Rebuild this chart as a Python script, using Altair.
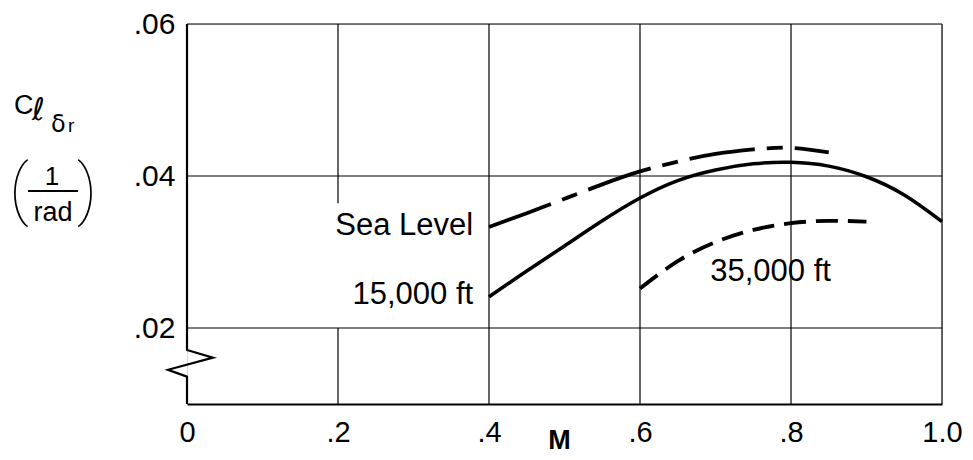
import altair as alt
import pandas as pd

# ---- data ----
sea_M = [0.40, 0.45, 0.50, 0.55, 0.60, 0.65, 0.70, 0.75, 0.80, 0.85]
sea_C = [0.0333, 0.0351, 0.0370, 0.0389, 0.0406, 0.0419, 0.0429, 0.0435, 0.0437, 0.0431]

ft15_M = [0.40, 0.45, 0.50, 0.55, 0.60, 0.65, 0.70, 0.75, 0.80, 0.85, 0.90, 0.95, 1.00]
ft15_C = [0.0241, 0.0275, 0.0308, 0.0341, 0.0371, 0.0394, 0.0408, 0.0416, 0.0418, 0.0413, 0.0399, 0.0375, 0.0340]

ft35_M = [0.60, 0.65, 0.70, 0.75, 0.80, 0.85, 0.90]
ft35_C = [0.0252, 0.0288, 0.0313, 0.0329, 0.0338, 0.0341, 0.0340]

x_ticks = [0.0, 0.2, 0.4, 0.6, 0.8, 1.0]
y_ticks = [0.02, 0.04, 0.06]

# grid / frame segments (data units)
vgrid_x = [0.2, 0.2, 0.4, 0.6, 0.8, 1.0]
vgrid_y1 = [0.06, 0.02, 0.06, 0.06, 0.06, 0.06]
vgrid_y2 = [0.0364, 0.01, 0.01, 0.01, 0.01, 0.01]
hgrid_y = [0.02, 0.04, 0.06]

# left axis with break symbol
brk_M = [0.0, 0.0, 0.0344, -0.0252, 0.0, 0.0]
brk_C = [0.06, 0.0171, 0.0161, 0.0145, 0.0136, 0.01]

labels = ["Sea Level", "15,000 ft", "35,000 ft"]
label_M = [0.379, 0.379, 0.693]
label_C = [0.0334, 0.0243, 0.0274]
label_align = ["right", "right", "left"]

FONT = "Liberation Sans"

xs = alt.Scale(domain=[0, 1], nice=False, zero=False)
ys = alt.Scale(domain=[0.01, 0.06], nice=False, zero=False)

x_axis = alt.Axis(values=x_ticks, ticks=False, grid=False, domain=True,
                  domainColor="black", domainWidth=2.2, labelFlush=False,
                  labelExpr="datum.value == 0 ? '0' : datum.value == 1 ? '1.0' : replace(format(datum.value, '.1f'), '0.', '.')",
                  labelFont=FONT, labelFontSize=29, labelColor="black", labelPadding=14,
                  title="M", titleFont=FONT, titleFontSize=27, titleFontWeight="bold",
                  titleX=372, titleY=36, titleBaseline="middle", titleAlign="center",
                  titleColor="black")
y_axis = alt.Axis(values=y_ticks, ticks=False, grid=False, domain=False,
                  labelExpr="replace(format(datum.value, '.2f'), '0.', '.')",
                  labelFont=FONT, labelFontSize=30, labelColor="black", labelPadding=12,
                  title=None)

sea = pd.DataFrame({"M": sea_M, "C": sea_C})
f15 = pd.DataFrame({"M": ft15_M, "C": ft15_C})
f35 = pd.DataFrame({"M": ft35_M, "C": ft35_C})

base_x = alt.X("M:Q", scale=xs, axis=x_axis)
base_y = alt.Y("C:Q", scale=ys, axis=y_axis)

vgrid = alt.Chart(pd.DataFrame({"M": vgrid_x, "C": vgrid_y1, "C2": vgrid_y2})).mark_rule(
    color="black", strokeWidth=1.2).encode(x=base_x, y=base_y, y2="C2:Q")
hgrid = alt.Chart(pd.DataFrame({"C": hgrid_y, "M": [0.0] * 3, "M2": [1.0] * 3})).mark_rule(
    color="black", strokeWidth=1.2).encode(x=base_x, x2="M2:Q", y=base_y)

brk = alt.Chart(pd.DataFrame({"M": brk_M, "C": brk_C, "o": list(range(len(brk_M)))})).mark_line(
    color="black", strokeWidth=2.2, strokeJoin="miter").encode(x=base_x, y=base_y, order="o:Q")

l_sea = alt.Chart(sea).mark_line(color="black", strokeWidth=3.8, interpolate="natural",
                                 strokeDash=[66, 12, 16, 12]).encode(x=base_x, y=base_y)
l_15 = alt.Chart(f15).mark_line(color="black", strokeWidth=3.5, interpolate="natural").encode(x=base_x, y=base_y)
l_35 = alt.Chart(f35).mark_line(color="black", strokeWidth=3.8, interpolate="natural",
                                strokeDash=[22, 10]).encode(x=base_x, y=base_y)

ann = pd.DataFrame({"t": labels, "M": label_M, "C": label_C, "a": label_align})
ann_r = alt.Chart(ann[ann.a == "right"]).mark_text(font=FONT, fontSize=31, align="right",
                                                   baseline="middle", color="black").encode(
    x=base_x, y=base_y, text="t:N")
ann_l = alt.Chart(ann[ann.a == "left"]).mark_text(font=FONT, fontSize=31, align="left",
                                                  baseline="middle", color="black").encode(
    x=base_x, y=base_y, text="t:N")

# y-axis title pieces (pixel offsets relative to plot area)
def txt(s, x, y, size, align="left", baseline="alphabetic", font=FONT, weight="normal"):
    return alt.Chart(pd.DataFrame({"t": [s]})).mark_text(
        font=font, fontSize=size, align=align, baseline=baseline, color="black",
        fontWeight=weight).encode(x=alt.value(x), y=alt.value(y), text="t:N")

ytitle = [
    txt("C", -173, 90, 27),
    txt("ℓ", -155, 96, 31, font="DejaVu Sans"),
    txt("δ", -136, 108, 24, font="DejaVu Sans"),
    txt("r", -119, 108, 19),
    txt("(", -168, 168, 66, align="center", baseline="middle", font="Roboto", weight=100),
    txt(")", -100, 168, 66, align="center", baseline="middle", font="Roboto", weight=100),
    txt("1", -135, 161, 26, align="center"),
    txt("rad", -134, 197, 27, align="center"),
]
bar = alt.Chart(pd.DataFrame({"a": [0]})).mark_rule(color="black", strokeWidth=1.8).encode(
    x=alt.value(-159), x2=alt.value(-109), y=alt.value(167))

chart = alt.layer(vgrid, hgrid, brk, l_sea, l_15, l_35, ann_r, ann_l, bar, *ytitle).properties(
    width=755, height=380,
    autosize=alt.AutoSizeParams(type="none"),
    padding={"left": 179, "top": 16, "right": 20, "bottom": 52},
).configure_view(stroke=None).configure(background="white")

chart.save("out.html", embed_options={"renderer": "svg", "actions": False})
